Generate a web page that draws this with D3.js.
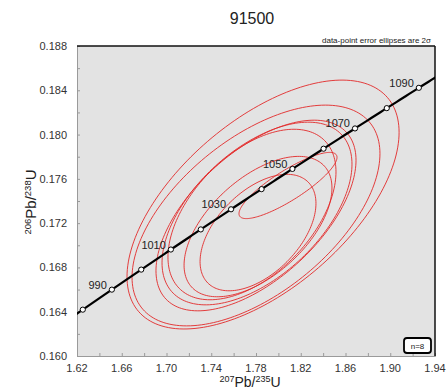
<!DOCTYPE html>
<html><head><meta charset="utf-8">
<script src="https://cdn.jsdelivr.net/npm/d3@7"></script>
<style>body{margin:0;background:#fff;} text{font-family:"Liberation Sans",Arial,sans-serif;}</style>
</head><body><svg id="c" width="446" height="389"></svg>
<script>
// ---- data ----
const title = "91500";
const xTicks = [1.62,1.66,1.70,1.74,1.78,1.82,1.86,1.90,1.94];
const yTicks = [0.160,0.164,0.168,0.172,0.176,0.180,0.184,0.188];
const markerAges = [980,990,1000,1010,1020,1030,1040,1050,1060,1070,1080,1090];
const labelAges = [990,1010,1030,1050,1070,1090];
// error ellipses (2 sigma): centres, half-widths, correlation
const ellX   = [1.7863, 1.7800, 1.7800, 1.7809, 1.7764, 1.7818, 1.7818, 1.8086];
const ellY   = [0.17368,0.17269,0.17269,0.17287,0.17278,0.17169,0.17115,0.17540];
const ellSX  = [0.1216, 0.1108, 0.0894, 0.0849, 0.0751, 0.0661, 0.0518, 0.0438];
const ellSY  = [0.01124,0.00997,0.00861,0.00825,0.00770,0.00634,0.00526,0.00299];
const ellRho = [0.58,   0.56,   0.58,   0.54,   0.50,   0.55,   0.50,   0.85];
const nLabel = "n=8";
const note = "data-point error ellipses are 2\u03c3";
const L238 = 1.55125e-4, L235 = 9.8485e-4; // per Ma

// ---- layout ----
const svg = d3.select("#c");
const X0=77, X1=435, Y0=46, Y1=356;
const x = d3.scaleLinear().domain([1.62,1.94]).range([X0,X1]);
const y = d3.scaleLinear().domain([0.160,0.188]).range([Y1,Y0]);

svg.append("rect").attr("x",X0).attr("y",Y0).attr("width",X1-X0).attr("height",Y1-Y0).attr("fill","#e3e3e3");
svg.append("clipPath").attr("id","clip").append("rect").attr("x",X0).attr("y",Y0).attr("width",X1-X0).attr("height",Y1-Y0);

// axes
const xAxis = d3.axisBottom(x).tickValues(d3.range(1.62,1.9401,0.02)).tickSize(-3).tickFormat(()=>"");
const gx = svg.append("g").attr("transform",`translate(0,${Y1})`).call(xAxis);
const yAxis = d3.axisLeft(y).tickValues(d3.range(0.160,0.18801,0.002)).tickSize(-3).tickFormat(()=>"");
const gy = svg.append("g").attr("transform",`translate(${X0},0)`).call(yAxis);
[gx,gy].forEach(g=>{g.select(".domain").attr("stroke","#9a9a9a");g.selectAll(".tick line").attr("stroke","#9a9a9a");});

svg.append("g").selectAll("text").data(xTicks).join("text")
  .attr("x",d=>x(d)).attr("y",372).attr("text-anchor","middle").attr("font-size",11).attr("fill","#333")
  .text(d=>d.toFixed(2));
svg.append("g").selectAll("text").data(yTicks).join("text")
  .attr("x",67).attr("y",d=>y(d)+4).attr("text-anchor","end").attr("font-size",11).attr("fill","#333")
  .text(d=>d.toFixed(3));

// borders top / right
svg.append("line").attr("x1",X0).attr("x2",X1).attr("y1",Y0).attr("y2",Y0).attr("stroke","#111").attr("stroke-width",1.5);
svg.append("line").attr("x1",X1).attr("x2",X1).attr("y1",Y0).attr("y2",Y1).attr("stroke","#111").attr("stroke-width",1.5);

const plot = svg.append("g").attr("clip-path","url(#clip)");

// ellipses
const line = d3.line().curve(d3.curveLinearClosed);
ellX.forEach((cx,i)=>{
  const s = Math.sqrt(1-ellRho[i]*ellRho[i]);
  const pts = d3.range(0,360,2).map(a=>{
    const t=a*Math.PI/180;
    return [x(cx+ellSX[i]*Math.cos(t)), y(ellY[i]+ellSY[i]*(ellRho[i]*Math.cos(t)+s*Math.sin(t)))];
  });
  plot.append("path").attr("d",line(pts)).attr("fill","none").attr("stroke","#e22a2a").attr("stroke-width",1).attr("stroke-opacity",0.9);
});

// concordia
const conc = t=>[Math.exp(L235*t)-1, Math.exp(L238*t)-1];
const cpts = d3.range(960,1110,1).map(t=>{const c=conc(t);return [x(c[0]),y(c[1])];});
plot.append("path").attr("d",d3.line()(cpts)).attr("fill","none").attr("stroke","#000").attr("stroke-width",2.2);
plot.selectAll("circle").data(markerAges).join("circle")
  .attr("cx",d=>x(conc(d)[0])).attr("cy",d=>y(conc(d)[1])).attr("r",2.6)
  .attr("fill","#fff").attr("stroke","#000").attr("stroke-width",1);
plot.append("g").selectAll("text").data(labelAges).join("text")
  .attr("x",d=>x(conc(d)[0])-5).attr("y",d=>y(conc(d)[1])-1).attr("text-anchor","end")
  .attr("font-size",11).attr("fill","#222").text(d=>d);

// n box
svg.append("rect").attr("x",404).attr("y",338).attr("width",27).attr("height",15).attr("rx",3)
  .attr("fill","#fff").attr("stroke","#000").attr("stroke-width",1.8);
svg.append("text").attr("x",417.5).attr("y",348.5).attr("text-anchor","middle").attr("font-size",8).attr("fill","#222").text(nLabel);

// titles
svg.append("text").attr("x",252).attr("y",24).attr("text-anchor","middle").attr("font-size",16).attr("fill","#222").text(title);
svg.append("text").attr("x",431).attr("y",43).attr("text-anchor","end").attr("font-size",8).attr("fill","#222").text(note);

const xt = svg.append("text").attr("x",250).attr("y",387).attr("text-anchor","middle").attr("font-size",14).attr("fill","#222");
xt.append("tspan").attr("font-size",9).attr("dy",-5).text("207");
xt.append("tspan").attr("dy",5).text("Pb/");
xt.append("tspan").attr("font-size",9).attr("dy",-5).text("235");
xt.append("tspan").attr("dy",5).text("U");

const yt = svg.append("text").attr("transform","translate(36,202) rotate(-90)").attr("text-anchor","middle").attr("font-size",15).attr("fill","#222");
yt.append("tspan").attr("font-size",9.5).attr("dy",-5).text("206");
yt.append("tspan").attr("dy",5).text("Pb/");
yt.append("tspan").attr("font-size",9.5).attr("dy",-5).text("238");
yt.append("tspan").attr("dy",5).text("U");
</script></body></html>
